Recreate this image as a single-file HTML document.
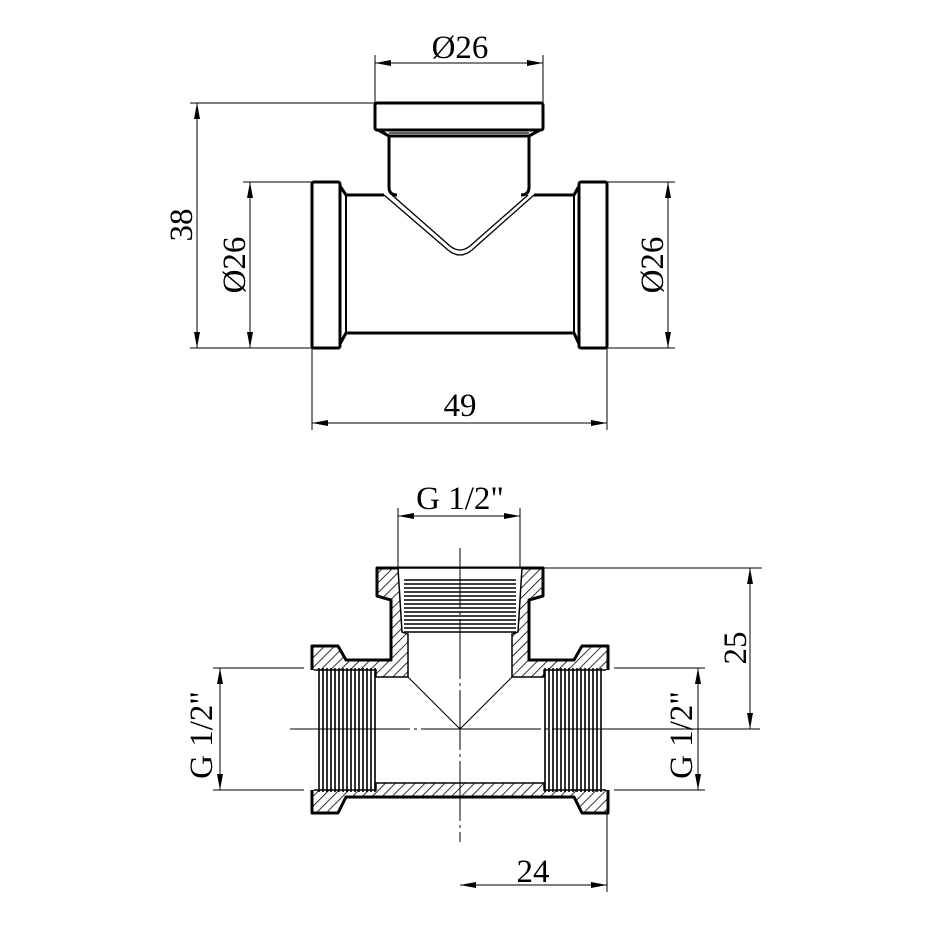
<!DOCTYPE html>
<html><head><meta charset="utf-8"><style>
html,body{margin:0;padding:0;background:#fff}
svg{display:block}
text{font-family:"Liberation Serif",serif;fill:#000}
</style></head><body>
<svg width="930" height="930" viewBox="0 0 930 930" xmlns="http://www.w3.org/2000/svg">
<defs>
<pattern id="h" patternUnits="userSpaceOnUse" width="7" height="7" patternTransform="rotate(45)">
<rect width="7" height="7" fill="#fff"/><line x1="0" y1="0" x2="0" y2="7" stroke="#000" stroke-width="1.6"/>
</pattern>
<marker id="a" viewBox="0 0 16 6" refX="16" refY="3" markerWidth="16" markerHeight="6" orient="auto-start-reverse" markerUnits="userSpaceOnUse">
<path d="M0,0 L16,3 L0,6 z" fill="#000"/></marker>
</defs>

<g fill="none" stroke="#000" stroke-width="3" stroke-linejoin="round">
<rect x="375" y="103" width="168" height="27" rx="2"/>
<path d="M378,130 L389,136 L529,136 L540,130"/>
<path d="M389,136 L389,187 Q389,195 397,195"/>
<path d="M529,136 L529,187 Q529,195 521,195"/>
<rect x="312" y="182" width="28" height="166" rx="2"/>
<rect x="579" y="182" width="28" height="166" rx="2"/>
<path d="M340,186 L346,195 L384,195"/>
<path d="M340,344 L346,333 L574,333 L579,344"/>
<path d="M579,186 L574,195 L534,195"/>
<line x1="346" y1="195" x2="346" y2="333" stroke-width="2"/>
<line x1="574" y1="195" x2="574" y2="333" stroke-width="2"/>
</g>
<g fill="none" stroke="#000" stroke-width="1.3">
<line x1="389" y1="133" x2="529" y2="133"/>
<path d="M384,195 L448,250 Q460,260 472,250 L534,195"/>
<path d="M392,195 L450,246 Q460,254 470,246 L528,195"/>
</g>
<g stroke="#000" stroke-width="1" fill="none">
<line x1="375" y1="55" x2="375" y2="103"/><line x1="543" y1="55" x2="543" y2="103"/>
<line x1="375" y1="63" x2="543" y2="63" marker-start="url(#a)" marker-end="url(#a)"/>
<line x1="190" y1="103" x2="375" y2="103"/><line x1="190" y1="348" x2="312" y2="348"/>
<line x1="197" y1="103" x2="197" y2="348" marker-start="url(#a)" marker-end="url(#a)"/>
<line x1="243" y1="182" x2="312" y2="182"/>
<line x1="250" y1="182" x2="250" y2="348" marker-start="url(#a)" marker-end="url(#a)"/>
<line x1="607" y1="182" x2="675" y2="182"/><line x1="607" y1="348" x2="675" y2="348"/>
<line x1="668" y1="182" x2="668" y2="348" marker-start="url(#a)" marker-end="url(#a)"/>
<line x1="312" y1="348" x2="312" y2="430"/><line x1="607" y1="348" x2="607" y2="430"/>
<line x1="312" y1="423" x2="607" y2="423" marker-start="url(#a)" marker-end="url(#a)"/>
</g>
<text x="460" y="58" font-size="33" text-anchor="middle">Ø26</text>
<text x="460" y="416" font-size="33" text-anchor="middle">49</text>
<text transform="translate(192,225) rotate(-90)" font-size="33" text-anchor="middle">38</text>
<text transform="translate(245,265) rotate(-90)" font-size="33" text-anchor="middle">Ø26</text>
<text transform="translate(663,265) rotate(-90)" font-size="33" text-anchor="middle">Ø26</text>

<path d="M312,646 L338,646 L346,660 L391,660 L391,600 L377,596 L377,568 L543,568 L543,596 L529,600 L529,660 L574,660 L582,646 L608,646 L608,813 L582,813 L574,797 L346,797 L338,813 L312,813 Z" fill="url(#h)" stroke="#000" stroke-width="3" stroke-linejoin="round"/>
<path d="M312,670 L376,670 L376,677 L408,677 L408,634 L402,632 L398,568 L522,568 L518,632 L512,634 L512,677 L544,677 L544,670 L608,670 L608,790 L544,790 L544,783 L376,783 L376,790 L312,790 Z" fill="#fff" stroke="#000" stroke-width="1.5"/>
<line x1="312" y1="670" x2="312" y2="790" stroke="#fff" stroke-width="4"/>
<line x1="608" y1="670" x2="608" y2="790" stroke="#fff" stroke-width="4"/>
<g stroke="#000" stroke-width="1.6">
<line x1="319" y1="668" x2="319" y2="792"/><line x1="601" y1="668" x2="601" y2="792"/>
<path d="M323,668V792M327,668V792M331,668V792M335,668V792M339,668V792M343,668V792M347,668V792M351,668V792M355,668V792M359,668V792M363,668V792M367,668V792M371,668V792M375,668V792"/>
<path d="M545,668V792M549,668V792M553,668V792M557,668V792M561,668V792M565,668V792M569,668V792M573,668V792M577,668V792M581,668V792M585,668V792M589,668V792M593,668V792M597,668V792"/>
<path d="M404,580H516M404,584H516M404,588H516M404,592H516M404,596H516M404,600H516M404,604H516M404,608H516M404,612H516M404,616H516M404,620H516M404,624H516M404,628H516M404,632H516"/>
</g>
<g stroke="#000" stroke-width="1.1" fill="none">
<path d="M408,677 L460,729 L512,677"/>
</g>
<g stroke="#000" stroke-width="1" fill="none">
<line x1="460" y1="548" x2="460" y2="842" stroke-dasharray="60,4,3,4"/>
<line x1="290" y1="729" x2="660" y2="729" stroke-dasharray="120,4,3,4"/>
<line x1="660" y1="729" x2="760" y2="729"/>
</g>
<g stroke="#000" stroke-width="1" fill="none">
<line x1="398" y1="508" x2="398" y2="568"/><line x1="520" y1="508" x2="520" y2="568"/>
<line x1="398" y1="516" x2="520" y2="516" marker-start="url(#a)" marker-end="url(#a)"/>
<line x1="543" y1="568" x2="762" y2="568"/>
<line x1="750" y1="568" x2="750" y2="729" marker-start="url(#a)" marker-end="url(#a)"/>
<line x1="213" y1="668" x2="304" y2="668"/><line x1="213" y1="790" x2="304" y2="790"/>
<line x1="220" y1="668" x2="220" y2="790" marker-start="url(#a)" marker-end="url(#a)"/>
<line x1="614" y1="668" x2="705" y2="668"/><line x1="614" y1="790" x2="705" y2="790"/>
<line x1="698" y1="668" x2="698" y2="790" marker-start="url(#a)" marker-end="url(#a)"/>
<line x1="607" y1="813" x2="607" y2="892"/>
<line x1="460" y1="885" x2="607" y2="885" marker-start="url(#a)" marker-end="url(#a)"/>
</g>
<text x="460" y="509" font-size="33" text-anchor="middle">G 1/2"</text>
<text x="533" y="882" font-size="33" text-anchor="middle">24</text>
<text transform="translate(746,648) rotate(-90)" font-size="33" text-anchor="middle">25</text>
<text transform="translate(212,735) rotate(-90)" font-size="33" text-anchor="middle">G 1/2"</text>
<text transform="translate(692,735) rotate(-90)" font-size="33" text-anchor="middle">G 1/2"</text>
</svg>
</body></html>
